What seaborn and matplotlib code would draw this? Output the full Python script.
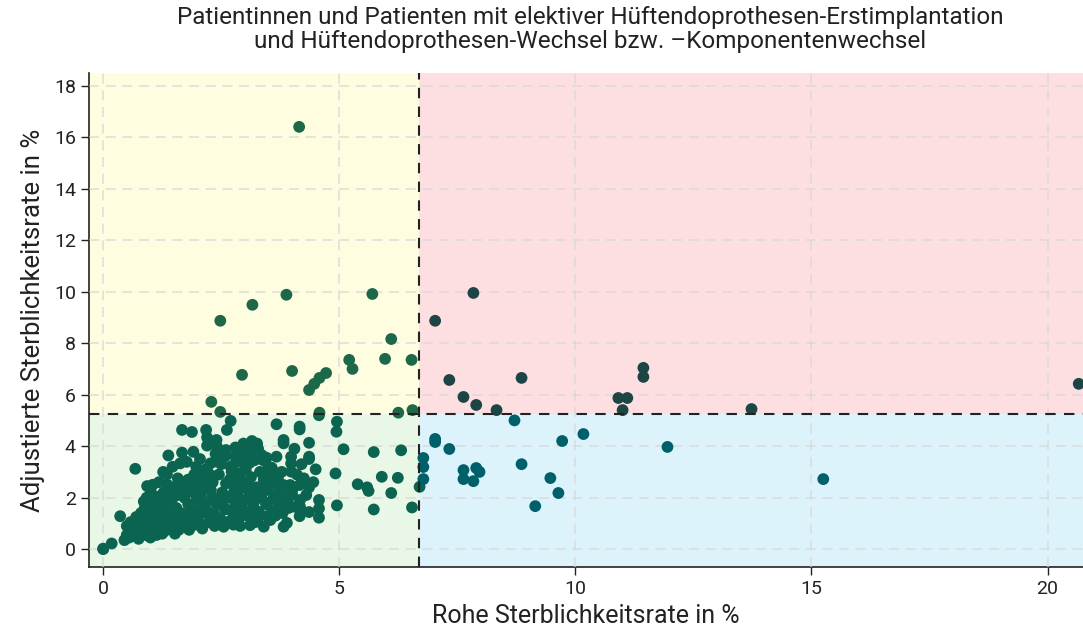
import numpy as np
import pandas as pd
import matplotlib
matplotlib.use('Agg')
import matplotlib.pyplot as plt
import seaborn as sns

# Schwellenwerte (Referenzlinien)
x_ref = 6.69
y_ref = 5.25

# Punkte ausserhalb des Hauptclusters
x_gelb = [4.15, 2.48, 3.16, 3.88, 5.70, 6.10, 5.97, 6.53, 5.21, 5.28, 2.94, 4.0, 4.72, 4.58, 4.47, 4.36, 2.29, 2.48, 6.55, 6.25, 4.58]
y_gelb = [16.4, 8.87, 9.49, 9.88, 9.91, 8.16, 7.39, 7.35, 7.35, 7.0, 6.77, 6.92, 6.84, 6.65, 6.42, 6.18, 5.72, 5.33, 5.40, 5.30, 5.30]

x_rot = [7.03, 7.84, 7.33, 7.63, 7.90, 8.33, 8.86, 10.91, 11.10, 11.0, 11.44, 11.44, 13.73, 20.66]
y_rot = [8.87, 9.95, 6.57, 5.91, 5.60, 5.40, 6.65, 5.87, 5.87, 5.40, 7.04, 6.69, 5.44, 6.42]

x_blau = [8.71, 10.17, 9.72, 11.95, 7.03, 7.03, 7.33, 6.78, 6.78, 6.78, 7.63, 7.63, 7.90, 7.97, 7.84, 8.86, 9.47, 9.64, 9.15, 15.25]
y_blau = [5.0, 4.47, 4.20, 3.97, 4.28, 4.16, 3.89, 3.54, 3.19, 2.72, 3.07, 2.72, 3.15, 3.0, 2.64, 3.30, 2.76, 2.18, 1.67, 2.72]

x_gruen = [0, 0, 0.18, 0.36, 0.45, 0.5, 0.55, 0.6, 0.5, 0.62, 0.58,
           0.68, 0.7, 0.72, 0.75, 0.7, 0.78, 0.8, 0.76,
           0.82, 0.85, 0.88, 0.9, 0.92, 0.95, 0.98, 1.0, 0.86, 0.93,
           1.02, 1.05, 1.08, 1.1, 1.12, 1.15, 1.18, 1.2, 1.05, 1.13,
           1.22, 1.25, 1.28, 1.3, 1.32, 1.35, 1.38, 1.4, 1.27, 1.36,
           1.42, 1.45, 1.48, 1.5, 1.52, 1.55, 1.58, 1.6, 1.47, 1.57,
           1.63, 1.65, 1.67, 1.67, 1.7, 1.72, 1.75, 1.77, 1.78, 1.8, 1.62,
           1.82, 1.85, 1.88, 1.9, 1.91, 1.93, 1.95, 1.97, 1.98, 2.0, 1.86,
           2.02, 2.05, 2.07, 2.1, 2.12, 2.15, 2.18, 2.2, 2.2, 2.17, 2.08, 2.13,
           2.25, 2.27, 2.3, 2.32, 2.35, 2.38, 2.4, 2.41, 2.36, 2.28, 2.39,
           2.45, 2.48, 2.5, 2.52, 2.55, 2.57, 2.6, 2.62, 2.47, 2.58,
           2.65, 2.67, 2.7, 2.72, 2.75, 2.78, 2.8, 2.68, 2.76, 2.8,
           2.83, 2.85, 2.88, 2.9, 2.92, 2.95, 2.97, 3.0, 2.9, 2.98,
           3.02, 3.05, 3.08, 3.1, 3.11, 3.13, 3.15, 3.18, 3.2, 3.06,
           3.22, 3.25, 3.28, 3.3, 3.32, 3.35, 3.36, 3.38, 3.4, 3.4, 3.26,
           3.45, 3.48, 3.5, 3.52, 3.54, 3.55, 3.57, 3.58, 3.6, 3.46,
           3.63, 3.65, 3.67, 3.67, 3.7, 3.72, 3.75, 3.75, 3.78, 3.8,
           3.82, 3.82, 3.82, 3.82, 3.89, 3.9, 3.96, 3.98, 3.98, 3.98, 4.0, 3.93,
           4.07, 4.16, 4.16, 4.16, 4.16, 4.17, 4.17, 4.1, 4.05,
           4.36, 4.36, 4.36, 4.36, 4.36, 4.57, 4.57, 4.57, 4.3, 4.45, 4.5,
           4.92, 4.94, 4.95, 4.95, 5.09, 5.39, 5.59, 5.62, 5.73, 5.73, 5.9, 6.1, 6.24, 6.31, 6.54, 6.7, 4.57,
           0.95, 1.15, 1.35, 1.55, 1.75, 2.0, 2.25, 2.55, 2.85, 3.15, 3.45, 1.25, 1.6, 2.1, 2.7, 3.3, 0.65, 1.0,
           # dichter Kern
           0.6, 0.7, 0.8, 0.9, 1.0, 1.1, 1.2, 1.3, 1.4, 1.5, 0.75, 0.85, 0.95, 1.05, 1.15, 1.25, 1.35, 1.45,
           1.6, 1.7, 1.8, 1.9, 2.0, 2.1, 2.2, 2.3, 2.4, 2.5, 1.65, 1.75, 1.85, 1.95, 2.05, 2.15, 2.25, 2.35,
           2.6, 2.7, 2.8, 2.9, 3.0, 3.1, 3.2, 3.3, 3.4, 3.5, 2.65, 2.75, 2.85, 2.95, 3.05, 3.15, 3.25, 3.35,
           1.0, 1.2, 1.4, 1.6, 1.8, 2.0, 2.2, 2.4, 2.6, 2.8, 3.0, 3.2, 3.6, 3.7, 3.85, 4.0, 4.2, 4.25]
y_gruen = [0, 0.02, 0.22, 1.28, 0.35, 0.55, 0.45, 0.8, 0.9, 0.6, 1.05,
           3.12, 0.5, 0.75, 1.0, 1.25, 0.6, 1.4, 0.9,
           0.7, 1.1, 1.6, 0.55, 2.0, 0.85, 1.3, 2.3, 1.85, 2.45,
           0.65, 1.0, 1.5, 2.05, 0.8, 1.2, 2.6, 1.75, 2.5, 0.55,
           0.95, 1.35, 2.2, 0.7, 1.6, 2.9, 3.64, 1.1, 3.0, 2.5,
           0.85, 1.9, 1.3, 2.4, 0.6, 1.6, 2.75, 1.05, 3.2, 2.1,
           3.33, 1.4, 3.75, 4.63, 0.9, 2.0, 2.6, 3.39, 1.2, 1.75, 2.3,
           0.75, 2.25, 4.55, 1.5, 3.78, 2.9, 0.95, 3.2, 1.95, 2.6, 1.1,
           1.3, 3.5, 2.15, 0.8, 2.8, 1.6, 4.63, 4.34, 4.02, 3.1, 1.85, 2.45,
           1.05, 3.33, 2.0, 2.6, 1.4, 3.7, 4.24, 3.98, 0.9, 2.3, 1.75,
           2.9, 1.2, 3.3, 2.2, 0.87, 1.6, 2.55, 4.63, 1.9, 3.6,
           1.05, 2.0, 4.98, 3.0, 1.4, 2.35, 3.6, 2.7, 0.95, 1.8,
           3.9, 2.1, 1.2, 2.7, 3.4, 1.55, 4.1, 2.4, 0.9, 1.9,
           3.1, 1.3, 3.8, 2.15, 0.93, 2.8, 4.2, 1.65, 3.45, 2.6,
           1.05, 2.4, 3.9, 1.45, 3.0, 2.0, 3.65, 3.46, 0.87, 2.7, 4.1,
           1.8, 2.3, 3.2, 1.2, 1.13, 2.9, 3.16, 1.5, 2.55, 3.55,
           2.1, 1.3, 3.59, 4.85, 2.75, 1.75, 2.23, 2.42, 3.0, 1.4,
           4.24, 4.11, 2.49, 0.87, 1.02, 1.9, 2.49, 3.59, 3.33, 3.01, 2.26, 1.6,
           1.64, 4.76, 4.65, 2.49, 1.28, 1.91, 1.64, 2.9, 3.9,
           4.13, 3.59, 3.5, 2.4, 1.44, 1.91, 1.58, 1.22, 2.1, 2.6, 3.1,
           2.94, 4.56, 4.95, 1.7, 3.88, 2.52, 2.4, 2.26, 3.77, 1.54, 2.81, 2.18, 2.77, 3.84, 1.62, 2.42, 5.2,
           1.7, 1.45, 1.9, 1.25, 2.15, 1.55, 1.3, 2.0, 1.65, 2.2, 1.75, 0.6, 0.75, 0.95, 1.1, 1.25, 0.7, 0.45,
           0.65, 0.95, 1.2, 0.6, 1.55, 0.75, 1.35, 0.9, 1.8, 0.7, 0.4, 0.8, 1.45, 1.7, 0.95, 2.1, 1.15, 2.25,
           1.05, 2.45, 1.35, 2.7, 1.15, 3.0, 1.45, 2.85, 1.25, 2.05, 2.2, 0.95, 2.55, 1.4, 2.3, 1.7, 2.8, 1.9,
           1.55, 3.2, 1.6, 2.95, 1.45, 3.35, 1.85, 2.15, 2.85, 1.3, 2.05, 3.25, 2.5, 1.8, 3.6, 1.3, 3.7, 2.35,
           1.55, 1.95, 2.05, 2.35, 2.7, 2.9, 3.1, 3.4, 3.85, 3.95, 3.7, 3.75, 1.95, 2.6, 2.05, 2.1, 3.3, 2.75]

df = pd.DataFrame({
    'x': x_gruen + x_gelb + x_rot + x_blau,
    'y': y_gruen + y_gelb + y_rot + y_blau,
    'q': ['gruen'] * len(x_gruen) + ['gelb'] * len(x_gelb) + ['rot'] * len(x_rot) + ['blau'] * len(x_blau),
})

sns.set_style('white')
plt.rcParams['font.family'] = ['Roboto', 'DejaVu Sans']
plt.rcParams['font.stretch'] = 'condensed'

fig = plt.figure(figsize=(10.83, 6.33), dpi=100)
ax = fig.add_axes([0.0822, 0.104, 0.9178, 0.781])

xmin, xmax = -0.3, 20.75
ymin, ymax = -0.7, 18.5

# Quadranten
ax.fill_between([xmin, x_ref], ymin, y_ref, color='#e9f7e7', lw=0, zorder=0)
ax.fill_between([xmin, x_ref], y_ref, ymax, color='#fffde0', lw=0, zorder=0)
ax.fill_between([x_ref, xmax], ymin, y_ref, color='#ddf3fb', lw=0, zorder=0)
ax.fill_between([x_ref, xmax], y_ref, ymax, color='#fddfe1', lw=0, zorder=0)

ax.grid(True, color='#d8d8d8', ls=(0, (6, 4)), lw=1.2, alpha=0.8, zorder=1)
ax.set_axisbelow(False)

pal = {'gruen': '#0a6450', 'gelb': '#1d6848', 'rot': '#1e4545', 'blau': '#00606a'}
sns.scatterplot(data=df, x='x', y='y', hue='q', palette=pal, s=72, edgecolor='none',
                legend=False, ax=ax, zorder=3)

ax.axvline(x_ref, color='#222222', ls=(0, (5, 4)), lw=1.5, zorder=4)
ax.axhline(y_ref, color='#222222', ls=(0, (5, 4)), lw=1.5, zorder=4)

ax.set_xlim(xmin, xmax)
ax.set_ylim(ymin, ymax)
ax.set_xticks([0, 5, 10, 15, 20])
ax.set_yticks(np.arange(0, 19, 2))

for s in ['top', 'right']:
    ax.spines[s].set_visible(False)
for s in ['left', 'bottom']:
    ax.spines[s].set_color('#222222')
    ax.spines[s].set_linewidth(1.2)
ax.tick_params(axis='both', direction='out', length=6, width=1, color='#222222',
               labelsize=14, labelcolor='#222222', left=True, bottom=True)

ax.set_xlabel('Rohe Sterblichkeitsrate in %', fontsize=18, color='#222222', labelpad=4)
ax.set_ylabel('Adjustierte Sterblichkeitsrate in %', fontsize=18.5, color='#222222', labelpad=6)
fig.suptitle('Patientinnen und Patienten mit elektiver Hüftendoprothesen-Erstimplantation\n'
             'und Hüftendoprothesen-Wechsel bzw. \u2013Komponentenwechsel',
             x=0.545, y=0.99, fontsize=17.5, color='#222222', linespacing=1.05)

fig.savefig('out.png', dpi=100)
